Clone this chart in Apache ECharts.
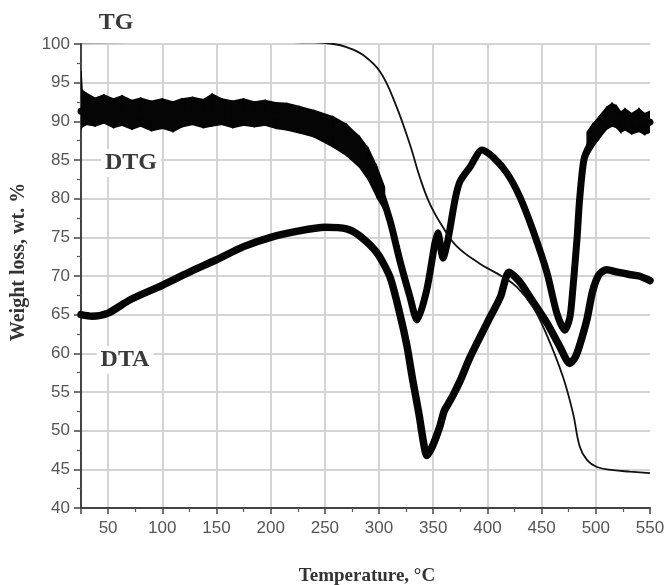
<!DOCTYPE html>
<html>
<head>
<meta charset="utf-8">
<script src="https://cdn.jsdelivr.net/npm/echarts@6/dist/echarts.min.js"></script>
<style>
html,body{margin:0;padding:0;background:#fff;}
#chart{width:669px;height:585px;}
</style>
</head>
<body>
<div id="chart"></div>
<script>
// ---- Data ----
const xMin = 25, xMax = 550;
const yMin = 40, yMax = 100, yStep = 5;

// TG (thin line)
const tgX = [25, 150, 240, 258, 270, 285, 301, 315, 328.5, 338, 347, 359, 372, 393, 414, 427, 442, 455, 469.6, 478.9, 485.3, 492, 501, 516, 531.5, 550];
const tgY = [100.2, 100.3, 100.2, 100.0, 99.6, 98.6, 96.4, 92.3, 87.0, 82.6, 79.3, 76.3, 73.8, 71.6, 69.9, 68.6, 66.0, 62.3, 57.0, 52.3, 47.9, 46.2, 45.3, 44.9, 44.7, 44.5];

// DTG (thick noisy line) - centre line
const dtgX = [25, 50, 75, 100, 125, 150, 175, 200, 227, 240, 257.5, 270, 282, 298, 310, 319, 328.5, 335, 344, 351.6, 354.3, 359, 363.6, 370, 374.6, 384, 395, 405, 418, 430, 442, 455, 464, 471.5, 476, 478, 482.6, 485, 489, 494.5, 501, 510, 519.5, 531.5, 547, 550];
const dtgY = [91.3, 91.2, 91.0, 90.9, 91.0, 91.2, 91.0, 90.8, 90.2, 89.6, 88.5, 87.4, 86.0, 82.1, 77.2, 72.1, 67.3, 64.3, 68.2, 74.3, 75.6, 72.3, 74.7, 79.8, 82.2, 84.1, 86.3, 85.4, 83.3, 80.2, 75.9, 70.4, 65.2, 63.0, 64.6, 67.0, 74.7, 79.8, 85.0, 86.9, 88.0, 90.2, 90.6, 90.2, 89.8, 89.9];

// DTG noise band edges (upper / lower) where the trace is widest
const dtgBandX  = [25, 26, 30, 38, 46, 55, 63, 72, 80, 90, 100, 110, 118, 128, 138, 146, 155, 165, 175, 185, 195, 205, 215, 227, 240, 257.5, 270, 282, 290, 298, 305];
const dtgBandHi = [96.5, 94.0, 93.6, 93.0, 93.4, 92.9, 93.3, 92.7, 93.0, 92.6, 92.9, 92.5, 92.9, 93.1, 92.8, 93.5, 92.9, 92.6, 92.9, 92.5, 92.7, 92.4, 92.3, 91.9, 91.4, 90.6, 89.6, 88.0, 86.5, 84.1, 81.5];
const dtgBandLo = [89.0, 89.3, 89.6, 89.4, 89.8, 89.2, 89.5, 89.0, 89.4, 88.8, 89.1, 88.7, 89.3, 89.6, 89.2, 89.4, 89.6, 89.2, 89.5, 89.3, 89.5, 89.1, 88.9, 88.5, 88.0, 86.7, 85.6, 84.1, 82.5, 80.2, 78.5];
const dtgBand2X  = [492, 497, 503, 510, 515, 519, 523, 527, 533, 540, 545, 550];
const dtgBand2Hi = [88.6, 89.6, 90.6, 91.8, 92.3, 92.0, 91.2, 91.6, 91.0, 91.6, 91.0, 91.3];
const dtgBand2Lo = [85.4, 86.6, 87.8, 89.0, 89.4, 89.2, 88.6, 88.9, 88.4, 88.7, 88.3, 88.6];

// DTA (thick line)
const dtaX = [25, 35, 50, 70, 100, 125, 150, 175, 200, 225, 250, 270, 282, 298, 310, 319, 325.7, 331, 337, 341, 344, 349, 356, 360, 364, 368, 375, 384, 400, 412, 420, 430, 439, 455, 467, 476, 481, 485, 492, 497, 503, 510, 520, 531, 540, 550];
const dtaY = [65.0, 64.8, 65.2, 66.9, 68.8, 70.5, 72.1, 73.8, 75.0, 75.8, 76.3, 76.1, 75.2, 73.0, 69.9, 65.2, 61.0, 56.6, 52.0, 48.5, 46.8, 47.9, 50.5, 52.5, 53.5, 54.5, 56.5, 59.5, 64.0, 67.3, 70.5, 69.2, 67.3, 63.9, 60.8, 58.7, 59.5, 61.0, 64.5, 68.0, 70.2, 70.8, 70.5, 70.2, 70.0, 69.4];

// Text
const xTitle = 'Temperature, °C';
const yTitle = 'Weight loss, wt. %';
const curveLabels = ['TG', 'DTG', 'DTA'];

// ---- Build chart ----
const zip = (xs, ys) => xs.map((x, i) => [x, ys[i]]);
const bandData = (xs, hi, lo) => xs.map((x, i) => [x, hi[i], lo[i]]);

function bandRenderer(xs, hi, lo) {
  return function (params, api) {
    const i = params.dataIndex;
    if (i >= xs.length - 1) return null;
    const pts = [
      api.coord([xs[i], hi[i]]),
      api.coord([xs[i + 1], hi[i + 1]]),
      api.coord([xs[i + 1], lo[i + 1]]),
      api.coord([xs[i], lo[i]])
    ];
    return {
      type: 'polygon',
      shape: { points: pts },
      style: { fill: '#050505', stroke: '#050505', lineWidth: 1.5 }
    };
  };
}

const chart = echarts.init(document.getElementById('chart'), null, { renderer: 'canvas' });
const axisFont = { fontFamily: 'Liberation Sans, Arial, sans-serif', fontSize: 17, color: '#555' };
const serifBold = 'Liberation Serif, Times New Roman, serif';

chart.setOption({
  animation: false,
  backgroundColor: '#fff',
  grid: { left: 81, right: 19, top: 44, bottom: 77, containLabel: false },
  xAxis: {
    type: 'value', min: xMin, max: xMax, splitNumber: 10, minInterval: 50, maxInterval: 50,
    axisLine: { show: true, lineStyle: { color: '#444', width: 2 } },
    axisTick: { show: true, length: 6, inside: false, lineStyle: { color: '#444', width: 1.5 } },
    minorTick: { show: true, splitNumber: 2, length: 4, lineStyle: { color: '#555', width: 1.2 } },
    axisLabel: Object.assign({ margin: 12, formatter: v => (v % 50 === 0 ? String(v) : '') }, axisFont),
    splitLine: { show: true, showMaxLine: false, lineStyle: { color: '#d4d4d4', width: 2 } },
    minorSplitLine: { show: false }
  },
  yAxis: {
    type: 'value', min: yMin, max: yMax, interval: yStep,
    axisLine: { show: true, lineStyle: { color: '#444', width: 2 } },
    axisTick: { show: true, length: 7, lineStyle: { color: '#444', width: 1.5 } },
    minorTick: { show: true, splitNumber: 2, length: 4, lineStyle: { color: '#555', width: 1.2 } },
    axisLabel: Object.assign({ margin: 11 }, axisFont),
    splitLine: { show: true, lineStyle: { color: '#d4d4d4', width: 2 } }
  },
  series: [
    {
      type: 'custom', name: 'DTG band 1', data: bandData(dtgBandX, dtgBandHi, dtgBandLo),
      encode: { x: 0, y: [1, 2] }, renderItem: bandRenderer(dtgBandX, dtgBandHi, dtgBandLo), z: 3, clip: true
    },
    {
      type: 'custom', name: 'DTG band 2', data: bandData(dtgBand2X, dtgBand2Hi, dtgBand2Lo),
      encode: { x: 0, y: [1, 2] }, renderItem: bandRenderer(dtgBand2X, dtgBand2Hi, dtgBand2Lo), z: 3, clip: true
    },
    {
      type: 'line', name: 'DTG', data: zip(dtgX, dtgY), showSymbol: false, smooth: 0.25,
      lineStyle: { color: '#050505', width: 7, join: 'round', cap: 'round' }, z: 4
    },
    {
      type: 'line', name: 'DTA', data: zip(dtaX, dtaY), showSymbol: false, smooth: 0.25,
      lineStyle: { color: '#050505', width: 7.5, join: 'round', cap: 'round' }, z: 4
    },
    {
      type: 'line', name: 'TG', data: zip(tgX, tgY), showSymbol: false, smooth: 0.4,
      lineStyle: { color: '#111', width: 1.8 }, z: 5
    }
  ],
  graphic: [
    { type: 'text', x: 116, y: 23, z: 10,
      style: { text: curveLabels[0], font: 'bold 24px ' + serifBold, fill: '#3a3a3a', align: 'center', verticalAlign: 'middle' } },
    { type: 'text', x: 131, y: 163, z: 10,
      style: { text: curveLabels[1], font: 'bold 24px ' + serifBold, fill: '#3a3a3a', align: 'center', verticalAlign: 'middle',
               backgroundColor: '#fff', padding: [2, 4] } },
    { type: 'text', x: 125, y: 360, z: 10,
      style: { text: curveLabels[2], font: 'bold 24px ' + serifBold, fill: '#3a3a3a', align: 'center', verticalAlign: 'middle',
               backgroundColor: '#fff', padding: [2, 4] } },
    { type: 'text', x: 367, y: 576, z: 10,
      style: { text: xTitle, font: 'bold 19px ' + serifBold, fill: '#333', align: 'center', verticalAlign: 'middle' } },
    { type: 'text', x: 19, y: 262, rotation: Math.PI / 2, z: 10,
      style: { text: yTitle, font: 'bold 20px ' + serifBold, fill: '#333', align: 'center', verticalAlign: 'middle' } }
  ]
});
</script>
</body>
</html>
